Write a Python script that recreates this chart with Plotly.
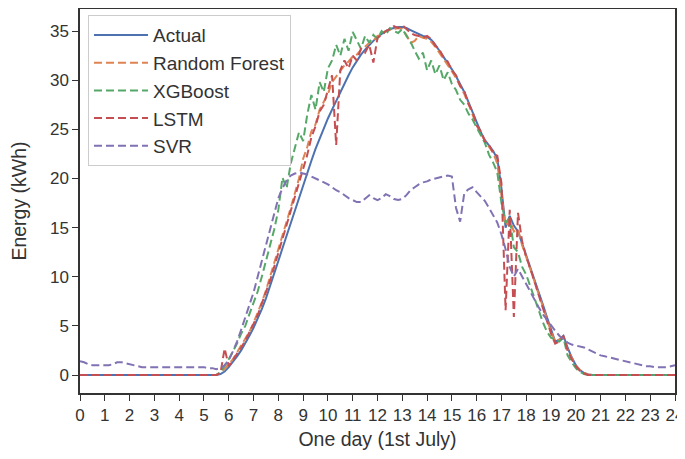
import numpy as np
import plotly.graph_objects as go

# time axis: 10-minute steps over one day (hours)
hours = np.round(np.arange(0, 24 + 1e-9, 1 / 6), 4)

actual = [
    0, 0, 0, 0, 0, 0, 0, 0, 0, 0, 0, 0,
    0, 0, 0, 0, 0, 0, 0, 0, 0, 0, 0, 0,
    0, 0, 0, 0, 0, 0, 0, 0, 0, 0, 0.1, 0.35,
    0.8, 1.3, 1.9, 2.5, 3.2, 4.0, 4.8, 5.7, 6.7, 7.8, 9.0, 10.3,
    11.6, 12.9, 14.2, 15.5, 16.8, 18.1, 19.4, 20.6, 21.8, 23.0, 24.1, 25.1,
    26.1, 27.0, 27.9, 28.8, 29.7, 30.5, 31.3, 32.0, 32.6, 33.1, 33.6, 34.0,
    34.4, 34.7, 35.0, 35.2, 35.3, 35.4, 35.4, 35.3, 35.1, 34.9, 34.7, 34.5,
    34.4, 34.1, 33.6, 33.0, 32.4, 31.8, 31.1, 30.4, 29.6, 28.8, 27.8, 26.7,
    25.6, 24.7, 23.9, 23.3, 22.8, 22.0, 19.0, 15.0, 16.2, 15.2, 14.6, 13.4,
    12.2, 11.0, 9.8, 8.5, 7.2, 5.9, 4.6, 3.4, 3.6, 4.0, 2.8, 1.8,
    1.0, 0.5, 0.2, 0.05, 0, 0, 0, 0, 0, 0, 0, 0,
    0, 0, 0, 0, 0, 0, 0, 0, 0, 0, 0, 0,
    0,
]

random_forest = [
    0, 0, 0, 0, 0, 0, 0, 0, 0, 0, 0, 0,
    0, 0, 0, 0, 0, 0, 0, 0, 0, 0, 0, 0,
    0, 0, 0, 0, 0, 0, 0, 0, 0, 0, 0.2, 0.6,
    1.1, 1.6, 2.3, 2.9, 3.7, 4.4, 5.3, 6.3, 7.4, 8.6, 10.0, 11.3,
    12.8, 14.0, 15.6, 17.0, 18.5, 20.0, 22.0, 23.2, 24.8, 25.5, 27.0, 27.8,
    28.6, 29.8, 30.4, 31.0, 31.5, 31.9, 32.4, 32.6, 33.1, 33.4, 33.8, 34.0,
    34.5, 34.6, 35.0, 35.1, 35.2, 35.3, 35.2, 34.6, 33.8, 34.0, 34.5, 34.3,
    34.2, 33.9, 33.4, 32.8, 32.2, 31.6, 30.9, 30.2, 29.4, 28.6, 27.6, 26.5,
    25.4, 24.6, 23.8, 23.2, 22.6, 21.5, 18.5, 15.2, 15.8, 14.6, 14.8, 13.2,
    12.0, 10.8, 9.6, 8.3, 7.0, 5.7, 4.4, 3.4, 3.6, 3.8, 2.6, 1.7,
    0.9, 0.5, 0.2, 0.05, 0, 0, 0, 0, 0, 0, 0, 0,
    0, 0, 0, 0, 0, 0, 0, 0, 0, 0, 0, 0,
    0,
]

xgboost = [
    0, 0, 0, 0, 0, 0, 0, 0, 0, 0, 0, 0,
    0, 0, 0, 0, 0, 0, 0, 0, 0, 0, 0, 0,
    0, 0, 0, 0, 0, 0, 0, 0, 0, 0, 0.3, 0.9,
    1.6, 2.4, 3.2, 4.2, 5.0, 6.2, 7.3, 8.5, 10.0, 11.5, 13.2, 14.8,
    16.8, 20.1, 19.0, 21.5, 23.0, 24.7, 23.8, 26.5, 28.5, 27.0, 29.8, 28.8,
    31.2, 32.0, 33.6, 32.5, 34.2, 33.0, 34.9, 34.0, 33.2, 34.5, 33.8, 34.6,
    34.2, 35.0, 34.6, 35.3, 35.0, 34.8, 35.2, 34.5, 33.9, 33.0, 32.2, 32.8,
    31.0, 32.0, 30.6, 31.5, 30.0, 30.8, 29.6, 29.0, 28.0, 27.5, 26.6, 26.0,
    25.2, 24.3, 23.6, 22.4, 21.6, 20.6, 17.5, 15.5, 16.0, 13.0, 12.5, 11.0,
    10.2, 9.0, 7.8, 6.5, 5.4, 4.4, 3.8, 3.6, 3.4, 3.8, 2.0, 1.3,
    0.7, 0.3, 0.1, 0, 0, 0, 0, 0, 0, 0, 0, 0,
    0, 0, 0, 0, 0, 0, 0, 0, 0, 0, 0, 0,
    0,
]

lstm = [
    0, 0, 0, 0, 0, 0, 0, 0, 0, 0, 0, 0,
    0, 0, 0, 0, 0, 0, 0, 0, 0, 0, 0, 0,
    0, 0, 0, 0, 0, 0, 0, 0, 0, 0, 0.2, 2.7,
    0.9, 1.5, 2.1, 2.8, 3.5, 4.3, 5.2, 6.1, 7.2, 8.3, 9.6, 11.0,
    12.4, 13.8, 15.2, 16.6, 18.0, 19.6, 21.0, 22.4, 24.2, 25.3, 26.8, 27.5,
    29.0, 30.5, 23.4, 31.0, 32.0, 31.2, 32.5, 32.0, 33.2, 32.8, 33.6, 31.8,
    34.3, 34.6, 35.0, 35.2, 35.5, 35.3, 35.6, 35.2, 34.8, 34.6, 34.5, 34.3,
    34.5, 34.2, 33.5, 33.1, 32.3, 31.9, 31.0, 30.5, 29.4, 28.9, 27.6, 26.8,
    25.4, 24.8, 23.8, 23.4, 22.6, 22.3, 19.5, 6.6, 16.8, 5.9, 16.5, 13.6,
    12.0, 10.8, 9.5, 8.3, 6.9, 5.5, 4.2, 3.2, 3.4, 4.0, 2.5, 1.6,
    0.9, 0.4, 0.15, 0, 0, 0, 0, 0, 0, 0, 0, 0,
    0, 0, 0, 0, 0, 0, 0, 0, 0, 0, 0, 0,
    0,
]

svr = [
    1.4, 1.3, 1.1, 1.0, 1.0, 1.0, 1.0, 1.0, 1.1, 1.3, 1.3, 1.2,
    1.1, 1.0, 0.9, 0.8, 0.8, 0.8, 0.8, 0.8, 0.8, 0.8, 0.8, 0.8,
    0.8, 0.8, 0.8, 0.8, 0.8, 0.8, 0.8, 0.7, 0.7, 0.6, 0.7, 1.0,
    1.5, 2.4, 3.4, 4.6, 5.9, 7.2, 8.4, 10.0, 11.6, 13.0, 14.6, 16.4,
    18.0, 19.0, 19.8, 20.3, 20.5, 20.6, 20.5, 20.4, 20.2, 20.0, 19.8, 19.6,
    19.4, 19.1, 18.8, 18.6, 18.3, 18.0, 17.8, 17.6, 17.6, 18.0, 18.3, 18.0,
    17.8, 18.0, 18.4, 18.2, 17.9, 17.8, 17.9, 18.3, 18.8, 19.1, 19.4, 19.6,
    19.7, 19.9, 20.0, 20.1, 20.2, 20.3, 20.2, 17.0, 15.6, 18.5, 18.9, 19.1,
    18.6, 18.2, 17.7, 17.0, 16.3, 15.5, 14.3, 12.8, 11.0, 10.0, 10.8, 10.0,
    9.2, 8.4, 7.6, 6.9, 6.2, 5.6, 5.0, 4.5, 4.0, 3.6, 3.3, 3.1,
    3.0, 2.9, 2.8, 2.6, 2.4, 2.2, 2.0, 1.9, 1.8, 1.7, 1.6, 1.5,
    1.4, 1.3, 1.2, 1.1, 1.0, 0.9, 0.9, 0.8, 0.8, 0.8, 0.8, 0.9,
    1.0,
]

series_names = ["Actual", "Random Forest", "XGBoost", "LSTM", "SVR"]
series_values = [actual, random_forest, xgboost, lstm, svr]
series_colors = ["#4C72B0", "#DD8452", "#55A868", "#C44E52", "#8172B3"]
series_dash = ["solid", "8px,4px", "8px,4px", "8px,4px", "8px,4px"]

x_ticks = list(range(0, 25))
y_ticks = [0, 5, 10, 15, 20, 25, 30, 35]

fig = go.Figure()
for name, vals, col, dash in zip(series_names, series_values, series_colors, series_dash):
    fig.add_trace(go.Scatter(
        x=hours, y=vals, mode="lines", name=name,
        line=dict(color=col, width=2, dash=dash),
    ))

font_family = "Arial, 'Liberation Sans', sans-serif"
# the page body has an 8px margin, so the figure is sized to fit the window
fig.update_layout(
    width=676, height=451,
    margin=dict(l=72, r=9, t=1, b=66, autoexpand=False),
    paper_bgcolor="white", plot_bgcolor="white",
    font=dict(family=font_family, size=17, color="#333333"),
    showlegend=True,
    legend=dict(
        x=0.0134, y=0.984, xanchor="left", yanchor="top",
        bgcolor="rgba(255,255,255,0.9)", bordercolor="#cccccc", borderwidth=1,
        font=dict(size=19, color="#333333"),
        tracegroupgap=0, itemwidth=54,
    ),
)
fig.update_xaxes(
    range=[0, 24], tickmode="array", tickvals=x_ticks,
    ticktext=[str(t) for t in x_ticks],
    ticks="outside", ticklen=6, tickwidth=1.3, tickcolor="#333333",
    showline=True, linecolor="#333333", linewidth=1.5, mirror=True,
    showgrid=False, zeroline=False, automargin=False,
    ticklabeloverflow="allow",
    title=dict(text="One day (1st July)", font=dict(size=19.5), standoff=8),
)
fig.update_yaxes(
    range=[-1.83, 37.24], tickmode="array", tickvals=y_ticks,
    ticks="outside", ticklen=6, tickwidth=1.3, tickcolor="#333333",
    showline=True, linecolor="#333333", linewidth=1.5, mirror=True,
    showgrid=False, zeroline=False, automargin=False,
    title=dict(text="Energy (kWh)", font=dict(size=19.5), standoff=22),
)

fig.write_html("out.html")
